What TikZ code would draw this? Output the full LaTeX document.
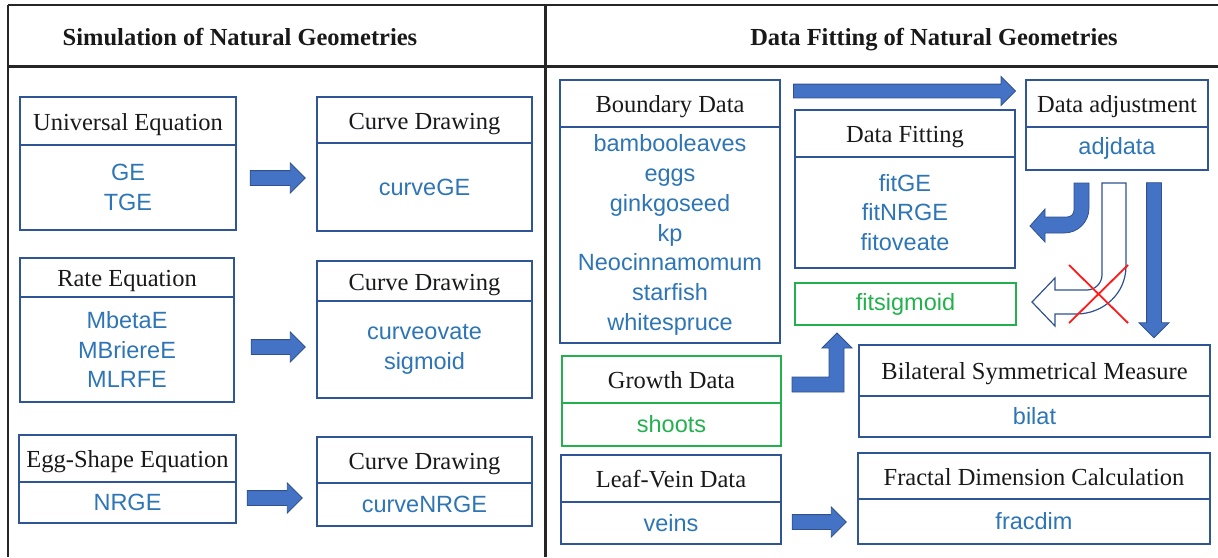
\documentclass[tikz,border=0pt]{standalone}
\usepackage{fontspec}
\setmainfont{Liberation Serif}
\newfontfamily\lblfont{Liberation Sans}
\usepackage{tikz}
\usetikzlibrary{positioning,shapes.arrows}
\usepackage{xcolor}
\definecolor{boxblue}{HTML}{2F5597}
\definecolor{txtblue}{HTML}{2E75B6}
\definecolor{arrfill}{HTML}{4472C4}
\definecolor{arrline}{HTML}{2F528F}
\definecolor{okgreen}{HTML}{22B14C}

\begin{document}
\begin{tikzpicture}[
  x=1pt,y=-1pt,
  rule/.style={line width=2.5pt,draw=black!85},
  title/.style={font=\fontsize{24.5}{29}\selectfont\bfseries,text=black!90,
                text height=17pt,text depth=0pt},
  head/.style={draw=boxblue,line width=1.3pt,outer sep=0pt,inner sep=0pt,
               anchor=north west,text=black!90,text height=18pt,text depth=0pt,
               font=\fontsize{24.5}{29}\selectfont},
  body/.style={draw=boxblue,line width=1.3pt,outer sep=0pt,inner sep=0pt,
               anchor=north,align=center,text=txtblue,
               font=\lblfont\fontsize{23.5}{29.7}\selectfont},
  ghead/.style={head,draw=okgreen,line width=2pt},
  gbody/.style={body,draw=okgreen,line width=2pt,text=okgreen},
  fatarrow/.style={single arrow,single arrow head extend=7.5pt,
                   fill=arrfill,draw=arrline,line width=0.8pt,
                   inner sep=7pt,minimum width=29pt,outer sep=0pt},
  fatpath/.style={fill=arrfill,draw=arrline,line width=0.8pt},
  cross/.style={draw=red!90,line width=1.8pt}
]
\useasboundingbox (0,0) rectangle (1218,557);

% table frame
\draw[rule] (8,5) -- (1218,5);
\draw[rule] (8,5) -- (8,557);
\draw[rule,line width=3pt] (8,66) -- (1218,66);
\draw[rule,line width=3pt] (545,5) -- (545,557);
\node[title] (simtitle) at (240,37) {Simulation of Natural Geometries};
\node[title] (fittitle) at (934,37) {Data Fitting of Natural Geometries};

% left column: equations and curve drawing
\node[head,minimum width=216,minimum height=48] (ueq) at (20,97) {Universal Equation};
\node[body,minimum width=216,minimum height=85,below=0pt of ueq] (ueqb) {GE\\TGE};
\node[head,minimum width=215,minimum height=46] (cdge) at (317,97) {Curve Drawing};
\node[body,minimum width=215,minimum height=88,below=0pt of cdge] (cdgeb) {curveGE};

\node[head,minimum width=214,minimum height=39] (req) at (20,258) {Rate Equation};
\node[body,minimum width=214,minimum height=105,below=0pt of req] (reqb)
  {MbetaE\\MBriereE\\MLRFE};
\node[head,minimum width=215,minimum height=40] (cdrate) at (317,261) {Curve Drawing};
\node[body,minimum width=215,minimum height=97,below=0pt of cdrate] (cdrateb)
  {curveovate\\sigmoid};

\node[head,minimum width=217,minimum height=47] (egg) at (19,435) {Egg-Shape Equation};
\node[body,minimum width=217,minimum height=41,below=0pt of egg] (eggb) {NRGE};
\node[head,minimum width=215,minimum height=46] (cdegg) at (317,437) {Curve Drawing};
\node[body,minimum width=215,minimum height=43,below=0pt of cdegg] (cdeggb) {curveNRGE};

\node[fatarrow,minimum height=55] (ueqarr) at (274,178) {};
\node[fatarrow,minimum height=54] (reqarr) at (274.5,347) {};
\node[fatarrow,minimum height=55] (eggarr) at (271,498) {};

% right column: data sets and fitting
\node[head,minimum width=220,minimum height=47] (bnd) at (560,80) {Boundary Data};
\node[body,minimum width=220,minimum height=216,below=0pt of bnd] (bndb)
  {bambooleaves\\eggs\\ginkgoseed\\kp\\Neocinnamomum\\starfish\\whitespruce};
\node[head,minimum width=220,minimum height=47] (fit) at (795,110) {Data Fitting};
\node[body,minimum width=220,minimum height=111,below=0pt of fit] (fitb)
  {fitGE\\fitNRGE\\fitoveate};
\node[head,minimum width=182,minimum height=47] (adj) at (1026,80) {Data adjustment};
\node[body,minimum width=182,minimum height=43,below=0pt of adj] (adjb) {adjdata};
\node[gbody,anchor=north west,minimum width=221,minimum height=42] (sig) at (795,283)
  {fitsigmoid};

\node[ghead,minimum width=219,minimum height=47] (grw) at (562,356) {Growth Data};
\node[gbody,minimum width=219,minimum height=43,below=0pt of grw] (grwb) {shoots};
\node[head,minimum width=220,minimum height=47] (vein) at (561,455) {Leaf-Vein Data};
\node[body,minimum width=220,minimum height=42,below=0pt of vein] (veinb) {veins};

\node[head,minimum width=351,minimum height=51] (bil) at (859,345)
  {Bilateral Symmetrical Measure};
\node[body,minimum width=351,minimum height=41,below=0pt of bil] (bilb) {bilat};
\node[head,minimum width=352,minimum height=46] (frac) at (858,453)
  {Fractal Dimension Calculation};
\node[body,minimum width=352,minimum height=45,below=0pt of frac] (fracb) {fracdim};

\node[fatarrow,minimum height=222,inner sep=6.5pt,minimum width=28pt] (toparr) at (901,91) {};
\node[fatarrow,minimum height=155,rotate=-90] (downarr) at (1154,256.5) {};
\node[fatarrow,minimum height=54] (veinarr) at (815.5,522) {};

% growth data up to fitsigmoid
\draw[fatpath] (792,377) -- (829,377) -- (829,348) -- (822,348) -- (837,333)
  -- (852,348) -- (844,348) -- (844,392) -- (792,392) -- cycle;
% adjdata back to data fitting
\draw[fatpath] (1074,183) -- (1089,183) -- (1089,208)
  .. controls (1089,222) and (1078,233) .. (1064,233) -- (1045,233) -- (1045,242)
  -- (1030,226) -- (1045,209) -- (1045,217) -- (1067,217)
  .. controls (1071,217) and (1074,214) .. (1074,210) -- cycle;
% adjdata to fitsigmoid, struck out
\draw[draw=arrline,fill=white,line width=1.2pt] (1102,183) -- (1126,183) -- (1126,266)
  .. controls (1126,293) and (1104,314) .. (1076,314) -- (1055,314) -- (1055,326)
  -- (1032,302) -- (1055,278) -- (1055,290) -- (1087,290)
  .. controls (1095,290) and (1102,283) .. (1102,275) -- cycle;
\draw[cross] (1069,265) -- (1128,323);
\draw[cross] (1069,323) -- (1128,265);
\end{tikzpicture}
\end{document}
